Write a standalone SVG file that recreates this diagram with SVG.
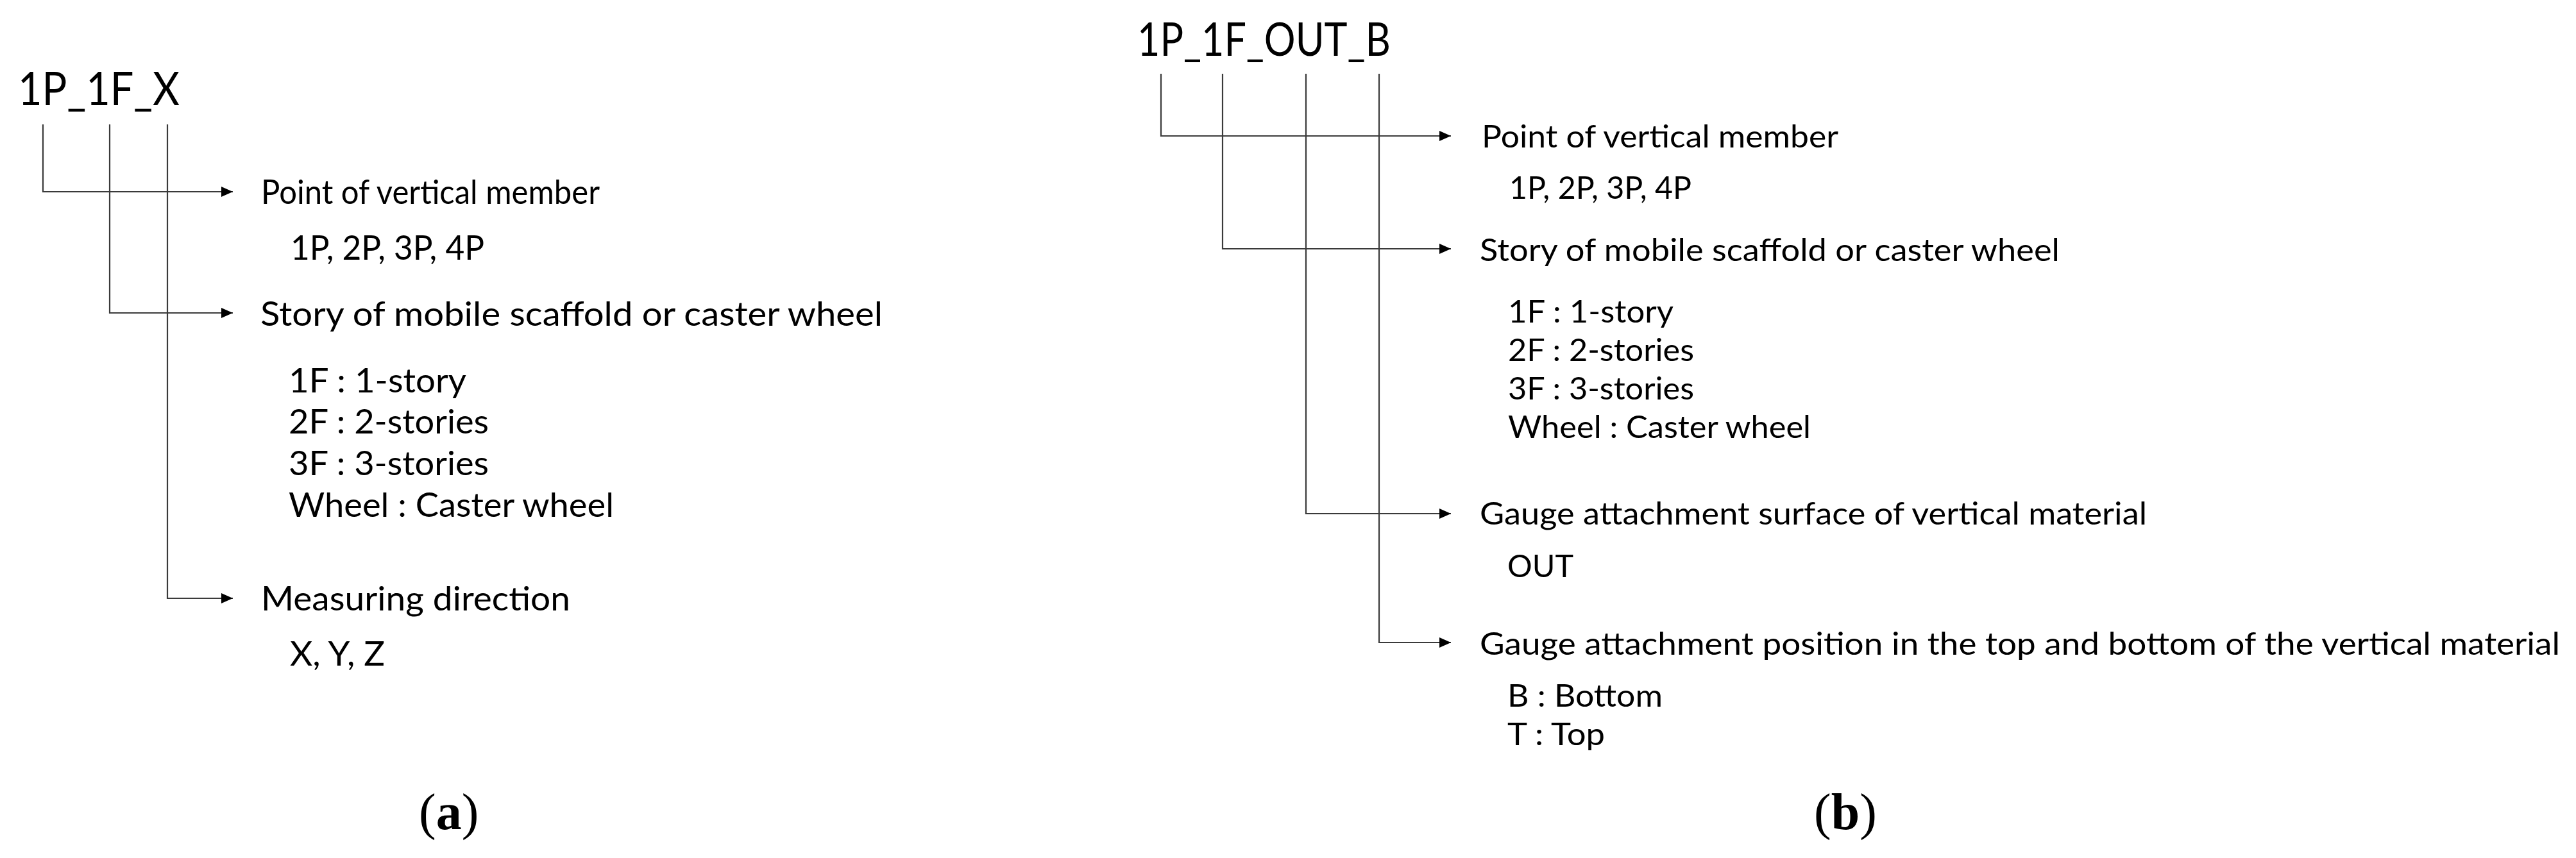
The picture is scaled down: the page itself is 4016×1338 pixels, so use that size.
<svg xmlns="http://www.w3.org/2000/svg" width="4016" height="1338" viewBox="0 0 4016 1338">
<defs>
<marker id="arr" viewBox="0 0 18 16" refX="18" refY="8" markerWidth="18" markerHeight="16" markerUnits="userSpaceOnUse" orient="auto">
<path d="M0,0 L18,8 L0,16 z" fill="#000"/>
</marker>
<style>
.t{font-family:Lato,"Open Sans",sans-serif;fill:#000}
.ta{font-size:53px}
.tb{font-size:49px}
.title{font-size:71px}
.cap{font-family:"Liberation Serif",serif;font-size:80px;fill:#000}
.c{fill:none;stroke:#3a3a3a;stroke-width:2.2}
</style>
</defs>
<rect width="4016" height="1338" fill="#fff"/>
<g id="connectors">
<path class="c" d="M67,194 V299 H363" marker-end="url(#arr)"/>
<path class="c" d="M171,194 V488 H363" marker-end="url(#arr)"/>
<path class="c" d="M261,194 V933 H363" marker-end="url(#arr)"/>
<path class="c" d="M1810,115 V212 H2262" marker-end="url(#arr)"/>
<path class="c" d="M1906,115 V388 H2262" marker-end="url(#arr)"/>
<path class="c" d="M2036,115 V801 H2262" marker-end="url(#arr)"/>
<path class="c" d="M2150,115 V1002 H2262" marker-end="url(#arr)"/>
</g>
<g id="a-title"><text class="t title" x="28" y="164" textLength="252" lengthAdjust="spacingAndGlyphs">1P_1F_X</text></g>
<g id="a-point">
<text class="t ta" x="407" y="318" textLength="528" lengthAdjust="spacingAndGlyphs">Point of vertical member</text>
<text class="t ta" x="453" y="405" textLength="302" lengthAdjust="spacingAndGlyphs">1P, 2P, 3P, 4P</text>
</g>
<g id="a-story">
<text class="t ta" x="406" y="508" textLength="970" lengthAdjust="spacingAndGlyphs">Story of mobile scaffold or caster wheel</text>
<text class="t ta" x="450" y="612" textLength="277" lengthAdjust="spacingAndGlyphs">1F : 1-story</text>
<text class="t ta" x="450" y="676" textLength="312" lengthAdjust="spacingAndGlyphs">2F : 2-stories</text>
<text class="t ta" x="450" y="741" textLength="312" lengthAdjust="spacingAndGlyphs">3F : 3-stories</text>
<text class="t ta" x="450" y="806" textLength="507" lengthAdjust="spacingAndGlyphs">Wheel : Caster wheel</text>
</g>
<g id="a-direction">
<text class="t ta" x="407" y="952" textLength="482" lengthAdjust="spacingAndGlyphs">Measuring direction</text>
<text class="t ta" x="452" y="1038" textLength="148" lengthAdjust="spacingAndGlyphs">X, Y, Z</text>
</g>
<g id="b-title"><text class="t title" x="1773" y="87" textLength="395" lengthAdjust="spacingAndGlyphs">1P_1F_OUT_B</text></g>
<g id="b-point">
<text class="t tb" x="2310" y="230" textLength="556" lengthAdjust="spacingAndGlyphs">Point of vertical member</text>
<text class="t tb" x="2353" y="310" textLength="284" lengthAdjust="spacingAndGlyphs">1P, 2P, 3P, 4P</text>
</g>
<g id="b-story">
<text class="t tb" x="2307" y="407" textLength="904" lengthAdjust="spacingAndGlyphs">Story of mobile scaffold or caster wheel</text>
<text class="t tb" x="2351" y="503" textLength="258" lengthAdjust="spacingAndGlyphs">1F : 1-story</text>
<text class="t tb" x="2351" y="563" textLength="290" lengthAdjust="spacingAndGlyphs">2F : 2-stories</text>
<text class="t tb" x="2351" y="623" textLength="290" lengthAdjust="spacingAndGlyphs">3F : 3-stories</text>
<text class="t tb" x="2351" y="683" textLength="472" lengthAdjust="spacingAndGlyphs">Wheel : Caster wheel</text>
</g>
<g id="b-surface">
<text class="t tb" x="2307" y="818" textLength="1040" lengthAdjust="spacingAndGlyphs">Gauge attachment surface of vertical material</text>
<text class="t tb" x="2350" y="900" textLength="103" lengthAdjust="spacingAndGlyphs">OUT</text>
</g>
<g id="b-position">
<text class="t tb" x="2307" y="1021" textLength="1684" lengthAdjust="spacingAndGlyphs">Gauge attachment position in the top and bottom of the vertical material</text>
<text class="t tb" x="2350" y="1102" textLength="242" lengthAdjust="spacingAndGlyphs">B : Bottom</text>
<text class="t tb" x="2350" y="1162" textLength="152" lengthAdjust="spacingAndGlyphs">T : Top</text>
</g>
<g id="caption-a"><text class="cap" x="653" y="1293">(<tspan font-weight="bold">a</tspan>)</text></g>
<g id="caption-b"><text class="cap" x="2828" y="1293">(<tspan font-weight="bold">b</tspan>)</text></g>
</svg>
